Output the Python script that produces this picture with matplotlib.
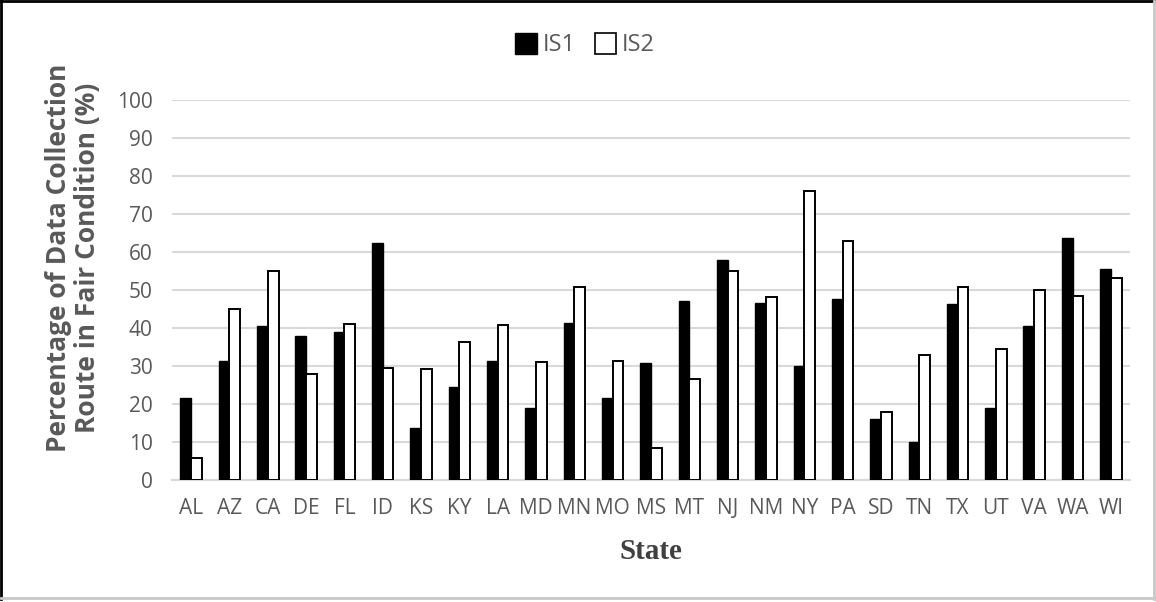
import matplotlib
matplotlib.use('Agg')
import matplotlib.pyplot as plt
import matplotlib.patches as mpatches
from matplotlib.lines import Line2D
import numpy as np

# --- Data ---
states = ['AL', 'AZ', 'CA', 'DE', 'FL', 'ID', 'KS', 'KY', 'LA', 'MD', 'MN', 'MO', 'MS',
          'MT', 'NJ', 'NM', 'NY', 'PA', 'SD', 'TN', 'TX', 'UT', 'VA', 'WA', 'WI']
is1 = [21.5, 31.4, 40.5, 37.9, 38.9, 62.3, 13.8, 24.4, 31.2, 18.9, 41.2, 21.5, 30.8,
       47.0, 58.0, 46.5, 29.9, 47.6, 16.0, 10.0, 46.3, 18.9, 40.4, 63.8, 55.6]
is2 = [5.7, 44.9, 55.0, 27.8, 41.0, 29.6, 29.1, 36.2, 40.9, 31.1, 50.9, 31.3, 8.5,
       26.7, 55.0, 48.2, 76.1, 63.0, 17.8, 32.9, 50.8, 34.6, 49.9, 48.3, 53.1]
yticks = list(range(0, 101, 10))

tick_color = '#595959'
grid_color = '#d9d9d9'
sans = ['Open Sans', 'DejaVu Sans']

fig = plt.figure(figsize=(11.56, 6.02), dpi=100, facecolor='white')
ax = fig.add_axes([172 / 1156, 1 - 480 / 602, 958 / 1156, 380 / 602])

x = np.arange(len(states))
w = 0.28
ax.bar(x - w / 2, is1, width=w, color='black', edgecolor='black', linewidth=1.0,
       zorder=3, label='IS1')
ax.bar(x + w / 2, is2, width=w, color='white', edgecolor='black', linewidth=1.4,
       zorder=3, label='IS2')

ax.set_xlim(-0.5, len(states) - 0.5)
ax.set_ylim(0, 100)
ax.set_yticks(yticks)
ax.set_yticklabels([str(t) for t in yticks], family=sans, fontsize=15, color=tick_color)
ax.set_xticks(x)
ax.set_xticklabels(states, family=sans, fontsize=15, color=tick_color)
ax.tick_params(length=0)
ax.tick_params(axis='x', pad=13)
ax.tick_params(axis='y', pad=14)
ax.yaxis.grid(True, color=grid_color, linewidth=1.5, zorder=0)
ax.set_axisbelow(True)
for s in ['top', 'right', 'left']:
    ax.spines[s].set_visible(False)
ax.spines['bottom'].set_color(grid_color)
ax.spines['bottom'].set_linewidth(1.5)

ax.set_ylabel('Percentage of Data Collection\nRoute in Fair Condition (%)',
              fontsize=19, fontweight='bold', color=tick_color, linespacing=1.1,
              family=sans)
ax.yaxis.set_label_coords(-0.074, 0.585)
ax.set_xlabel('State', family='Liberation Serif', fontsize=21, fontweight='bold',
              color='#404040')
ax.xaxis.set_label_coords(0.5, -0.152)

handles = [mpatches.Patch(facecolor='black', edgecolor='black'),
           mpatches.Patch(facecolor='white', edgecolor='black', linewidth=1.2)]
leg = fig.legend(handles, ['IS1', 'IS2'], loc='center', bbox_to_anchor=(585 / 1156, 1 - 45 / 602),
                 ncol=2, frameon=False, prop={'family': sans, 'size': 17},
                 handlelength=0.9, handleheight=1.0, handletextpad=0.25, columnspacing=0.8)
for t in leg.get_texts():
    t.set_color(tick_color)

# outer frame: dark on top/left, light on right/bottom
fig.add_artist(Line2D([0.001, 0.001], [0.005, 0.999], transform=fig.transFigure,
                      color='black', linewidth=2))
fig.add_artist(Line2D([0.001, 0.998], [0.998, 0.998], transform=fig.transFigure,
                      color='black', linewidth=2))
fig.add_artist(Line2D([0.998, 0.998], [0.005, 0.999], transform=fig.transFigure,
                      color='#c8c8c8', linewidth=2))
fig.add_artist(Line2D([0.001, 0.998], [0.006, 0.006], transform=fig.transFigure,
                      color='#c8c8c8', linewidth=2))

fig.savefig('out.png', dpi=100, facecolor='white')
